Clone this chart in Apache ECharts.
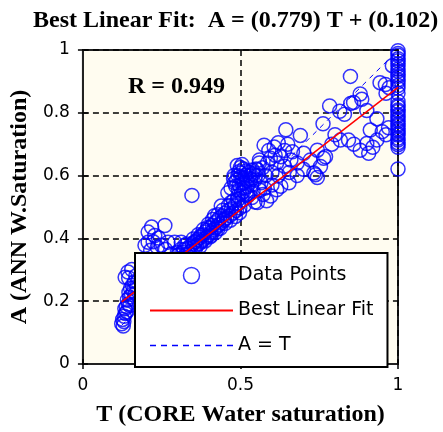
<!DOCTYPE html>
<html>
<head>
<meta charset="utf-8">
<script src="https://cdn.jsdelivr.net/npm/echarts@6/dist/echarts.min.js"></script>
<style>
  html, body { margin: 0; padding: 0; background: #fff; }
  #chart { width: 443px; height: 432px; }
</style>
</head>
<body>
<div id="chart"></div>
<script>
// ---- Data ----
var titleText = 'Best Linear Fit:  A = (0.779) T + (0.102)';
var rText = 'R = 0.949';
var xTitle = 'T (CORE Water saturation)';
var yTitle = 'A (ANN W.Saturation)';
var legendNames = ['Data Points', 'Best Linear Fit', 'A = T'];

// lower-left blob
var lowerLeft = [[0.123,0.128],[0.128,0.121],[0.126,0.142],[0.131,0.152],[0.135,0.161],[0.133,0.176],[0.138,0.183],[0.144,0.191],[0.141,0.204],[0.148,0.213],[0.154,0.221],[0.160,0.233],[0.166,0.224],[0.151,0.241],[0.157,0.251],[0.164,0.262],[0.145,0.274],[0.134,0.276],[0.155,0.301],[0.143,0.293],[0.171,0.247],[0.162,0.206],[0.149,0.186],[0.139,0.166],[0.130,0.135],[0.146,0.228],[0.168,0.280]];
// small cluster around T 0.2-0.3
var clusterB = [[0.218,0.436],[0.260,0.441],[0.207,0.420],[0.223,0.389],[0.228,0.409],[0.207,0.388],[0.197,0.378],[0.249,0.378],[0.270,0.388],[0.291,0.388],[0.240,0.401],[0.236,0.372],[0.215,0.362],[0.262,0.365]];
// dense band T 0.3-0.5
var bandC = [[0.296,0.332],[0.303,0.347],[0.309,0.336],[0.317,0.355],[0.321,0.364],[0.327,0.349],[0.334,0.368],[0.339,0.375],[0.343,0.359],[0.348,0.383],[0.351,0.371],[0.357,0.390],[0.361,0.377],[0.364,0.397],[0.369,0.384],[0.373,0.404],[0.377,0.391],[0.381,0.412],[0.384,0.397],[0.388,0.420],[0.392,0.404],[0.394,0.427],[0.399,0.411],[0.403,0.434],[0.407,0.419],[0.411,0.442],[0.415,0.427],[0.419,0.450],[0.423,0.435],[0.427,0.457],[0.431,0.443],[0.433,0.465],[0.439,0.449],[0.443,0.472],[0.447,0.457],[0.451,0.480],[0.456,0.465],[0.461,0.489],[0.466,0.473],[0.471,0.494],[0.476,0.481],[0.481,0.503],[0.487,0.489],[0.493,0.511],[0.498,0.497],[0.396,0.435],[0.418,0.472],[0.449,0.461],[0.439,0.503],[0.460,0.545],[0.470,0.514],[0.491,0.524],[0.428,0.430],[0.375,0.409],[0.407,0.409],[0.354,0.388],[0.323,0.378],[0.312,0.388],[0.280,0.350],[0.262,0.330],[0.245,0.318],[0.226,0.300],[0.346,0.537],
  [0.300,0.355],[0.310,0.365],[0.320,0.340],[0.330,0.382],[0.340,0.350],[0.350,0.398],[0.356,0.362],[0.366,0.412],[0.372,0.375],[0.382,0.428],[0.388,0.392],[0.398,0.445],[0.404,0.405],[0.412,0.460],[0.420,0.418],[0.428,0.475],[0.436,0.432],[0.444,0.490],[0.452,0.448],[0.462,0.505],[0.468,0.458],[0.478,0.520],[0.484,0.470],[0.492,0.535],[0.497,0.482],[0.505,0.520],[0.512,0.505],[0.518,0.540]];
// cluster T 0.48-0.6
var clusterD = [[0.480,0.600],[0.488,0.585],[0.495,0.612],[0.501,0.596],[0.506,0.575],[0.510,0.621],[0.516,0.601],[0.520,0.584],[0.526,0.611],[0.531,0.591],[0.535,0.571],[0.541,0.606],[0.546,0.586],[0.550,0.621],[0.556,0.601],[0.485,0.566],[0.494,0.554],[0.504,0.545],[0.514,0.561],[0.524,0.541],[0.536,0.530],[0.546,0.516],[0.500,0.626],[0.490,0.632],[0.501,0.608],[0.481,0.577],[0.512,0.577],[0.533,0.587],[0.523,0.535],[0.554,0.514],[0.596,0.535],[0.565,0.577],[0.554,0.619],[0.586,0.640],[0.562,0.553],[0.572,0.540],[0.583,0.520],
  [0.470,0.560],[0.478,0.590],[0.492,0.600],[0.507,0.590],[0.518,0.615],[0.528,0.600],[0.538,0.618],[0.548,0.600],[0.497,0.570],[0.510,0.550],[0.522,0.565],[0.540,0.550],[0.505,0.635],[0.560,0.640]];
// cluster T 0.56-0.7
var clusterE = [[0.575,0.697],[0.607,0.691],[0.628,0.660],[0.665,0.676],[0.701,0.671],[0.628,0.566],[0.654,0.577],[0.644,0.746],[0.690,0.728],[0.595,0.655],[0.615,0.640],[0.640,0.630],[0.660,0.650],[0.680,0.640],[0.600,0.610],[0.620,0.600],[0.580,0.600],[0.570,0.625],[0.560,0.650],[0.650,0.700],[0.620,0.705],[0.600,0.570],[0.576,0.560],[0.615,0.555],[0.680,0.600],[0.700,0.620],[0.640,0.680],[0.590,0.680],[0.610,0.665],[0.655,0.610]];
// upper cluster T 0.7-0.98
var clusterF = [[0.733,0.608],[0.744,0.594],[0.754,0.629],[0.764,0.655],[0.762,0.765],[0.783,0.822],[0.817,0.713],[0.843,0.713],[0.849,0.916],[0.859,0.833],[0.885,0.843],[0.880,0.681],[0.901,0.807],[0.901,0.702],[0.907,0.671],[0.933,0.781],[0.933,0.713],[0.943,0.896],[0.722,0.650],[0.744,0.681],[0.770,0.660],[0.800,0.730],[0.860,0.700],[0.920,0.690],[0.950,0.740],[0.962,0.730],[0.970,0.752],[0.962,0.862],[0.972,0.880],[0.982,0.950],[0.960,0.890],[0.850,0.830],[0.880,0.860],[0.912,0.745],[0.738,0.603],[0.790,0.700],[0.815,0.805],[0.830,0.795]];
// column of points at T = 1
var columnT = 1.0;
var columnA = [0.621,0.690,0.698,0.704,0.713,0.719,0.729,0.734,0.743,0.749,0.759,0.764,0.773,0.779,0.789,0.794,0.804,0.809,0.819,0.825,0.836,0.862,0.878,0.887,0.899,0.905,0.916,0.922,0.932,0.939,0.949,0.956,0.966,0.972,0.983,0.989,0.998];

// fitted line and A = T line end points
var fitT = [0.123, 1.0];
var fitA = [0.198, 0.881];
var idT = [0.123, 1.0];
var idA = [0.123, 1.0];

// ---- Build ----
var points = [].concat(lowerLeft, clusterB, bandC, clusterD, clusterE, clusterF,
  columnA.map(function (a) { return [columnT, a]; }));
var fitData = fitT.map(function (t, i) { return [t, fitA[i]]; });
var idData = idT.map(function (t, i) { return [t, idA[i]]; });

var serif = 'Liberation Serif';
var sans = 'DejaVu Sans';
function fmt(v) { return String(Math.round(v * 10) / 10); }

// legend icons drawn as paths (solid line / dashed line)
var solidIcon = 'path://M0,0H84V2H0Z';
var dashIcon = 'path://M0,0H6V1.5H0Z M11,0H17V1.5H11Z M22,0H28V1.5H22Z M33,0H39V1.5H33Z M44,0H50V1.5H44Z M55,0H61V1.5H55Z M66,0H72V1.5H66Z M77,0H83V1.5H77Z';

var chart = echarts.init(document.getElementById('chart'), null, { renderer: 'canvas' });
chart.setOption({
  backgroundColor: '#ffffff',
  animation: false,
  title: [
    { text: titleText, left: 33, top: 9, padding: 0,
      textStyle: { fontFamily: serif, fontWeight: 'bold', fontSize: 24, color: '#000' } },
    { text: rText, left: 128, top: 75, padding: 0, z: 10,
      textStyle: { fontFamily: serif, fontWeight: 'bold', fontSize: 24, color: '#000' } }
  ],
  grid: { left: 81, top: 50, width: 317, height: 319, show: true,
    backgroundColor: '#fffcf0', borderColor: '#222', borderWidth: 2 },
  legend: {
    z: 20,
    data: [
      { name: legendNames[0], icon: 'circle', itemStyle: { color: '#ffffff', borderColor: '#0000ff', borderWidth: 1.5 } },
      { name: legendNames[1], icon: solidIcon, itemStyle: { color: '#ff0000', borderWidth: 0 } },
      { name: legendNames[2], icon: dashIcon, itemStyle: { color: '#0000ff', borderWidth: 0 } }
    ],
    orient: 'vertical', left: 135, top: 253,
    backgroundColor: '#ffffff', borderColor: '#000', borderWidth: 2,
    padding: [13, 14, 12, 15], itemWidth: 83, itemHeight: 16, itemGap: 16,
    textStyle: { fontFamily: sans, fontSize: 19, color: '#000', lineHeight: 16 }
  },
  xAxis: [
    { type: 'value', min: 0, max: 1, interval: 0.5,
      name: xTitle, nameLocation: 'middle', nameGap: 39,
      nameTextStyle: { fontFamily: serif, fontWeight: 'bold', fontSize: 24, color: '#000' },
      axisLine: { show: true, lineStyle: { color: '#222', width: 2 } },
      axisTick: { show: true, inside: true, length: 5, lineStyle: { color: '#000', width: 1.5 } },
      axisLabel: { margin: 13, fontFamily: sans, fontSize: 17, color: '#000', formatter: fmt },
      splitLine: { show: true, lineStyle: { color: '#000', width: 1.5, type: [6, 4] } } },
    { type: 'value', min: 0, max: 1, interval: 0.5, position: 'top',
      axisLine: { show: true, lineStyle: { color: '#222', width: 2 } },
      axisTick: { show: true, inside: true, length: 5, lineStyle: { color: '#000', width: 1.5 } },
      axisLabel: { show: false }, splitLine: { show: false } }
  ],
  yAxis: [
    { type: 'value', min: 0, max: 1, interval: 0.2,
      name: yTitle, nameLocation: 'middle', nameGap: 49, nameRotate: 90,
      nameTextStyle: { fontFamily: serif, fontWeight: 'bold', fontSize: 24, color: '#000' },
      axisLine: { show: true, lineStyle: { color: '#222', width: 2 } },
      axisTick: { show: true, inside: true, length: 5, lineStyle: { color: '#000', width: 1.5 } },
      axisLabel: { margin: 13, fontFamily: sans, fontSize: 17, color: '#000', formatter: fmt },
      splitLine: { show: true, lineStyle: { color: '#000', width: 1.5, type: [6, 4] } } },
    { type: 'value', min: 0, max: 1, interval: 0.2, position: 'right',
      axisLine: { show: true, lineStyle: { color: '#222', width: 2 } },
      axisTick: { show: true, inside: true, length: 5, lineStyle: { color: '#000', width: 1.5 } },
      axisLabel: { show: false }, splitLine: { show: false } }
  ],
  series: [
    { name: legendNames[0], type: 'scatter', data: points, symbol: 'circle', symbolSize: 14,
      clip: false, z: 3,
      itemStyle: { color: 'rgba(0,0,0,0)', borderColor: '#0000ff', borderWidth: 1.5 } },
    { name: legendNames[1], type: 'line', data: fitData, symbol: 'none', z: 4,
      lineStyle: { color: '#ff0000', width: 1.5 }, itemStyle: { color: '#ff0000' } },
    { name: legendNames[2], type: 'line', data: idData, symbol: 'none', z: 4,
      lineStyle: { color: '#0000ff', width: 1, type: [5, 5] }, itemStyle: { color: '#0000ff' } }
  ]
});
</script>
</body>
</html>
